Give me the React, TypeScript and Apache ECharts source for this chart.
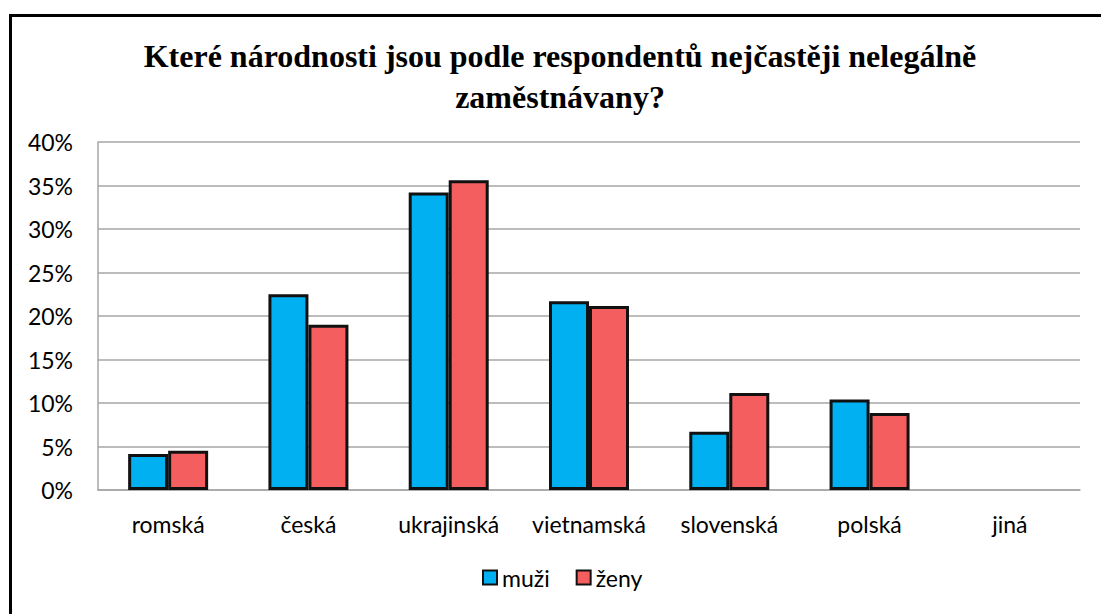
import React, { useEffect, useRef } from "react";
import * as echarts from "echarts";

const categories = ["romská", "česká", "ukrajinská", "vietnamská", "slovenská", "polská", "jiná"];
const muzi = [4.15, 22.5, 34.2, 21.7, 6.7, 10.4, 0];
const zeny = [4.5, 19.0, 35.6, 21.15, 11.15, 8.85, 0];
const titleText = "Které národnosti jsou podle respondentů nejčastěji nelegálně\nzaměstnávany?";

const toData = (arr: number[]) =>
  arr.map((v) => (v === 0 ? { value: v, itemStyle: { borderWidth: 0 } } : v));

export default function App() {
  const ref = useRef<HTMLDivElement>(null);
  useEffect(() => {
    if (!ref.current) return;
    const chart = echarts.init(ref.current, null, { renderer: "svg" });
    const labelFont = { fontFamily: "Lato", fontSize: 23, color: "#000" };
    chart.setOption({
      animation: false,
      backgroundColor: "#fff",
      graphic: [
        {
          type: "rect",
          shape: { x: 10.5, y: 15.5, width: 1200, height: 700 },
          style: { fill: "none", stroke: "#000", lineWidth: 3 },
          z: 100,
        },
        {
          type: "text",
          x: 560,
          y: 35,
          style: {
            text: titleText,
            textAlign: "center",
            font: "bold 32px 'Liberation Serif'",
            lineHeight: 41,
            fill: "#000",
          },
        },
      ],
      grid: { left: 98, right: 21, top: 142, bottom: 124 },
      legend: {
        data: ["muži", "ženy"],
        bottom: 20,
        left: 477,
        itemWidth: 14,
        itemHeight: 14,
        itemGap: 26,
        icon: "rect",
        textStyle: { ...labelFont },
      },
      xAxis: {
        type: "category",
        data: categories,
        axisLine: { lineStyle: { color: "#a6a6a6", width: 1.5 } },
        axisTick: { show: false },
        axisLabel: { ...labelFont, margin: 22, interval: 0 },
      },
      yAxis: {
        type: "value",
        min: 0,
        max: 40,
        interval: 5,
        axisLine: { show: true, lineStyle: { color: "#a6a6a6", width: 1.5 } },
        axisTick: { show: false },
        axisLabel: { ...labelFont, formatter: "{value}%", margin: 25 },
        splitLine: { lineStyle: { color: "#a6a6a6", width: 1.5 } },
      },
      series: [
        {
          name: "muži",
          type: "bar",
          data: toData(muzi),
          barWidth: 40,
          barGap: "0%",
          itemStyle: { color: "#00B0F0", borderColor: "#111", borderWidth: 3 },
        },
        {
          name: "ženy",
          type: "bar",
          data: toData(zeny),
          barWidth: 40,
          barGap: "0%",
          itemStyle: { color: "#F55E5E", borderColor: "#111", borderWidth: 3 },
        },
      ],
    });
    return () => chart.dispose();
  }, []);
  return (
    <div
      ref={ref}
      style={{ position: "absolute", left: 0, top: 0, width: 1101, height: 614 }}
    />
  );
}
